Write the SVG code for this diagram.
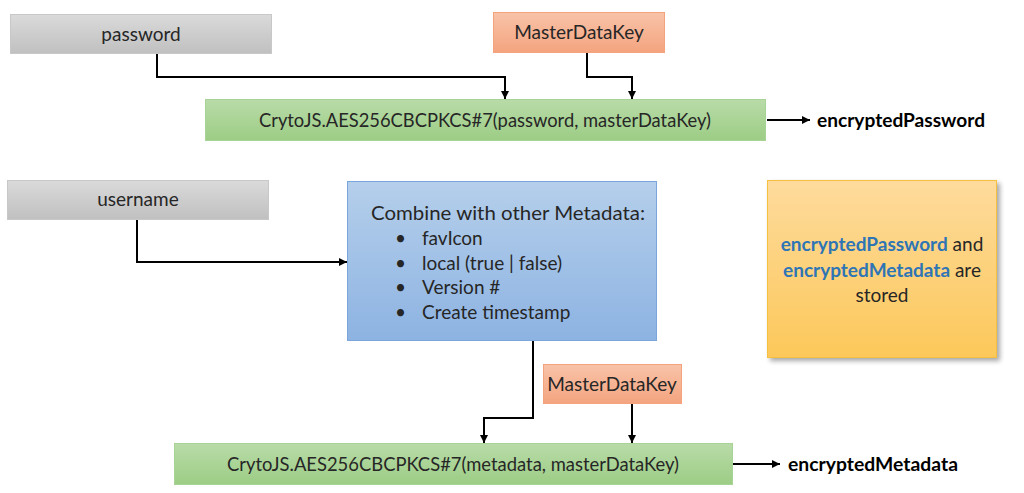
<svg xmlns="http://www.w3.org/2000/svg" width="1024" height="493" viewBox="0 0 1024 493">
<defs>
<linearGradient id="gGrey" x1="0" y1="0" x2="0" y2="1"><stop offset="0" stop-color="#dadada"/><stop offset="1" stop-color="#c0c0c0"/></linearGradient>
<linearGradient id="gOrange" x1="0" y1="0" x2="0" y2="1"><stop offset="0" stop-color="#f8c3a8"/><stop offset="1" stop-color="#f4a47f"/></linearGradient>
<linearGradient id="gGreen" x1="0" y1="0" x2="0" y2="1"><stop offset="0" stop-color="#b9dba8"/><stop offset="1" stop-color="#9ccd85"/></linearGradient>
<linearGradient id="gBlue" x1="0" y1="0" x2="0" y2="1"><stop offset="0" stop-color="#b5cfeb"/><stop offset="1" stop-color="#8db3e2"/></linearGradient>
<linearGradient id="gYellow" x1="0" y1="0" x2="0" y2="1"><stop offset="0" stop-color="#fedb9d"/><stop offset="1" stop-color="#fcc85a"/></linearGradient>
<filter id="shadow" x="-10%" y="-10%" width="130%" height="130%"><feGaussianBlur in="SourceAlpha" stdDeviation="2.5"/><feOffset dx="3" dy="3"/><feComponentTransfer><feFuncA type="linear" slope="0.35"/></feComponentTransfer><feMerge><feMergeNode/><feMergeNode in="SourceGraphic"/></feMerge></filter>
<marker id="arr" viewBox="0 0 10 10" refX="10" refY="5" markerWidth="4" markerHeight="4" orient="auto"><path d="M0,0 L10,5 L0,10 z" fill="#000"/></marker>
</defs>
<style>
text{font-family:Lato,"Open Sans","Liberation Sans",sans-serif;fill:#262626;font-size:19px}
.c{text-anchor:middle}
.b{font-weight:bold;fill:#000}
.bl{font-weight:bold;fill:#2e75b6}
.conn{fill:none;stroke:#000;stroke-width:2;marker-end:url(#arr)}
</style>
<rect width="1024" height="493" fill="#fff"/>
<g id="connectors">
<polyline class="conn" points="157,54 157,77 505,77 505,99"/>
<polyline class="conn" points="587,53 587,77 632,77 632,99"/>
<polyline class="conn" points="767,120 810,120"/>
<polyline class="conn" points="137,219 137,262 347,262"/>
<polyline class="conn" points="533,341 533,418 484,418 484,443"/>
<polyline class="conn" points="632,404 632,443"/>
<polyline class="conn" points="733,464 780,464"/>
</g>
<g id="password"><rect x="10.5" y="14.5" width="261" height="39" fill="url(#gGrey)" stroke="#c8c8c8"/><text class="c" x="141" y="41">password</text></g>
<g id="masterDataKey1"><rect x="493.5" y="12.5" width="171" height="40" fill="url(#gOrange)" stroke="#f4a37c"/><text class="c" x="579" y="39">MasterDataKey</text></g>
<g id="encrypt1"><rect x="205.5" y="99.5" width="560" height="41" fill="url(#gGreen)" stroke="#a8d396"/><text class="c" x="485" y="127" textLength="452" lengthAdjust="spacingAndGlyphs">CrytoJS.AES256CBCPKCS#7(password, masterDataKey)</text></g>
<g id="encryptedPassword"><text class="b" x="817" y="127" textLength="168" lengthAdjust="spacingAndGlyphs">encryptedPassword</text></g>
<g id="username"><rect x="7.5" y="180.5" width="261" height="39" fill="url(#gGrey)" stroke="#c8c8c8"/><text class="c" x="138" y="206">username</text></g>
<g id="metadata"><rect x="347.5" y="181.5" width="309" height="159" fill="url(#gBlue)" stroke="#7aa6dc"/>
<text x="371" y="220" textLength="274" lengthAdjust="spacingAndGlyphs">Combine with other Metadata:</text>
<text x="395" y="245">•</text><text x="422" y="245">favIcon</text>
<text x="395" y="270">•</text><text x="422" y="270">local (true | false)</text>
<text x="395" y="294">•</text><text x="422" y="294">Version #</text>
<text x="395" y="319">•</text><text x="422" y="319">Create timestamp</text>
</g>
<g id="stored"><rect x="767.5" y="180.5" width="229" height="177" fill="url(#gYellow)" stroke="#f5c040" filter="url(#shadow)"/>
<text class="c" x="882" y="251"><tspan class="bl">encryptedPassword</tspan> and</text>
<text class="c" x="882" y="277"><tspan class="bl">encryptedMetadata</tspan> are</text>
<text class="c" x="882" y="302">stored</text>
</g>
<g id="masterDataKey2"><rect x="543.5" y="364.5" width="138" height="39" fill="url(#gOrange)" stroke="#f4a37c"/><text class="c" x="612" y="391">MasterDataKey</text></g>
<g id="encrypt2"><rect x="174.5" y="443.5" width="558" height="41" fill="url(#gGreen)" stroke="#a8d396"/><text class="c" x="453" y="471" textLength="452" lengthAdjust="spacingAndGlyphs">CrytoJS.AES256CBCPKCS#7(metadata, masterDataKey)</text></g>
<g id="encryptedMetadata"><text class="b" x="788" y="471" textLength="170" lengthAdjust="spacingAndGlyphs">encryptedMetadata</text></g>
</svg>
